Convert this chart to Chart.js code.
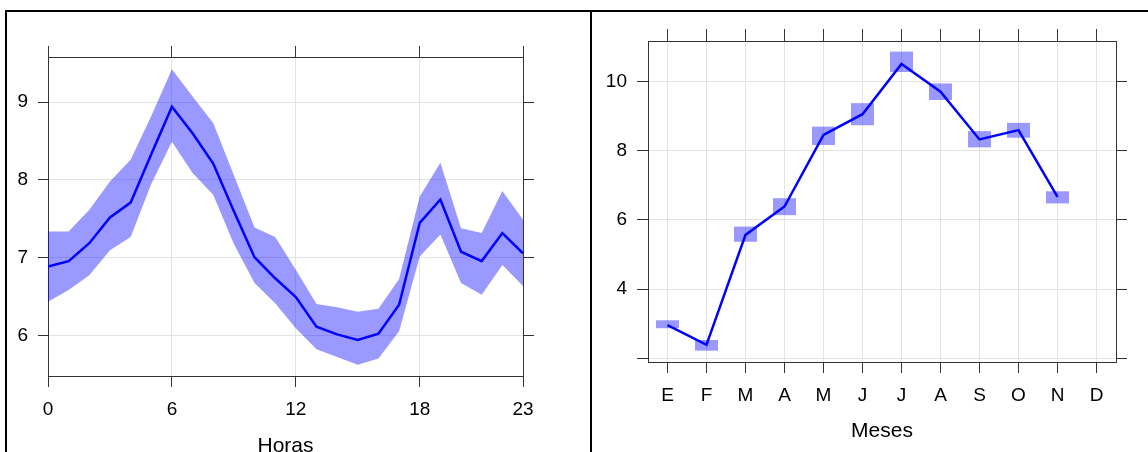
<!DOCTYPE html>
<html lang="es">
<head>
<meta charset="UTF-8">
<title>Horas y Meses</title>
<script src="https://cdn.jsdelivr.net/npm/chart.js"></script>
<style>
    body {
        margin: 0;
        background: #fff;
        width: 1148px;
        height: 452px;
        overflow: hidden;
        position: relative;
    }
    .frame { position: absolute; background: #000; }
    .panel { position: absolute; top: 0; }
</style>
</head>
<body>
<div class="frame" style="left:5px;top:10px;width:2px;height:442px"></div>
<div class="frame" style="left:5px;top:10px;width:1143px;height:2px"></div>
<div class="frame" style="left:590px;top:10px;width:2px;height:442px"></div>
<div class="panel" style="left:0"><canvas id="horas" width="590" height="452"></canvas></div>
<div class="panel" style="left:593px"><canvas id="meses" width="555" height="452"></canvas></div>

<script>
// datos por hora
const horas = [0, 1, 2, 3, 4, 5, 6, 7, 8, 9, 10, 11, 12, 13, 14, 15, 16, 17, 18, 19, 20, 21, 22, 23];
const media = [6.89, 6.96, 7.19, 7.52, 7.71, 8.33, 8.94, 8.60, 8.21, 7.60, 7.01, 6.74,
               6.50, 6.12, 6.02, 5.95, 6.03, 6.40, 7.45, 7.75, 7.08, 6.96, 7.32, 7.06];
const superior = [7.34, 7.34, 7.62, 7.98, 8.26, 8.82, 9.42, 9.07, 8.73, 8.06, 7.39, 7.27,
                  6.85, 6.41, 6.37, 6.31, 6.35, 6.73, 7.79, 8.22, 7.38, 7.32, 7.86, 7.49];
const inferior = [6.44, 6.59, 6.78, 7.10, 7.27, 7.95, 8.49, 8.09, 7.81, 7.18, 6.68, 6.42,
                  6.10, 5.83, 5.73, 5.63, 5.71, 6.06, 7.02, 7.30, 6.68, 6.53, 6.91, 6.64];
const ticksHoras = [0, 6, 12, 18, 23];
const ticksValorHoras = [6, 7, 8, 9];

// datos por mes
const meses = ['E', 'F', 'M', 'A', 'M', 'J', 'J', 'A', 'S', 'O', 'N', 'D'];
const mediaMes = [2.96, 2.39, 5.57, 6.39, 8.46, 9.06, 10.51, 9.71, 8.33, 8.60, 6.67, null];
const bajoMes = [2.87, 2.22, 5.37, 6.14, 8.17, 8.74, 10.28, 9.47, 8.10, 8.38, 6.48, null];
const altoMes = [3.10, 2.53, 5.81, 6.63, 8.70, 9.38, 10.87, 9.95, 8.57, 8.81, 6.83, null];
const ticksValorMeses = [2, 4, 6, 8, 10];

const AZUL = '#0000ff';
const BANDA = 'rgba(0,0,255,0.4)';
const GRID = '#e4e4e4';
const EJE = '#333';
const FUENTE = { family: "'Liberation Sans', Arial, sans-serif", size: 19 };
const TITULO = { family: "'Liberation Sans', Arial, sans-serif", size: 21 };

function fijar(px) {
    return function (s) {
        if (s.isHorizontal()) s.height = px;
        else s.width = px;
    };
}
function fijarTicks(vals) {
    return function (s) { s.ticks = vals.map(v => ({ value: v })); };
}
function pares(ys) {
    return horas.map((h, i) => ({ x: h, y: ys[i] }));
}
// eje con marcas hacia fuera
function eje(pos, tam, largo, extra) {
    const principal = pos === 'bottom' || pos === 'left';
    return Object.assign({
        position: pos,
        afterFit: fijar(tam),
        grid: { display: true, drawOnChartArea: principal, color: GRID, tickColor: EJE, tickLength: largo, offset: false },
        border: { display: true, color: EJE, width: 1 },
        ticks: { display: principal, color: '#000', font: FUENTE, padding: 10, maxRotation: 0, autoSkip: false }
    }, extra);
}

const base = {
    responsive: false,
    animation: false,
    events: [],
    layout: { padding: 0 },
    plugins: { legend: { display: false }, tooltip: { enabled: false } },
    elements: { line: { tension: 0 }, point: { radius: 0 } }
};

// panel izquierdo
const yMinH = 5.487, yMaxH = 9.577;
new Chart(document.getElementById('horas'), {
    type: 'line',
    data: {
        datasets: [
            { data: pares(superior), fill: '+1', backgroundColor: BANDA, borderColor: 'rgba(0,0,0,0)', borderWidth: 0, order: 1 },
            { data: pares(inferior), fill: false, borderColor: 'rgba(0,0,0,0)', borderWidth: 0, order: 1 },
            { data: pares(media), fill: false, borderColor: AZUL, borderWidth: 2.5, order: 0 }
        ]
    },
    options: Object.assign({}, base, {
        scales: {
            x: eje('bottom', 76, 11, {
                type: 'linear', min: 0, max: 23, afterBuildTicks: fijarTicks(ticksHoras),
                ticks: { color: '#000', font: FUENTE, padding: 11, maxRotation: 0, autoSkip: false },
                title: { display: true, text: 'Horas', color: '#000', font: TITULO, padding: { top: 0, bottom: -7 } }
            }),
            x2: eje('top', 57, 11, { type: 'linear', min: 0, max: 23, afterBuildTicks: fijarTicks(ticksHoras) }),
            y: eje('left', 48, 10, { type: 'linear', min: yMinH, max: yMaxH, afterBuildTicks: fijarTicks(ticksValorHoras) }),
            y2: eje('right', 67, 11, { type: 'linear', min: yMinH, max: yMaxH, afterBuildTicks: fijarTicks(ticksValorHoras) })
        }
    })
});

// panel derecho
const yMinM = 1.893, yMaxM = 11.177;
new Chart(document.getElementById('meses'), {
    type: 'bar',
    data: {
        labels: meses,
        datasets: [
            { type: 'line', data: mediaMes, borderColor: AZUL, borderWidth: 2.5, fill: false, order: 0 },
            {
                type: 'bar', data: bajoMes.map((b, i) => b === null ? null : [b, altoMes[i]]),
                backgroundColor: BANDA, borderWidth: 0, barPercentage: 0.59, categoryPercentage: 1, order: 1
            }
        ]
    },
    options: Object.assign({}, base, {
        scales: {
            x: eje('bottom', 90, 11, {
                type: 'category', offset: true,
                ticks: { color: '#000', font: FUENTE, padding: 11, maxRotation: 0, autoSkip: false },
                title: { display: true, text: 'Meses', color: '#000', font: TITULO, padding: { top: 0, bottom: 8 } }
            }),
            x2: eje('top', 41, 12, { type: 'category', offset: true, labels: meses }),
            y: eje('left', 55, 11, {
                type: 'linear', min: yMinM, max: yMaxM, afterBuildTicks: fijarTicks(ticksValorMeses),
                ticks: { color: '#000', font: FUENTE, padding: 10, callback: v => v === 2 ? '' : v }
            }),
            y2: eje('right', 32, 11, { type: 'linear', min: yMinM, max: yMaxM, afterBuildTicks: fijarTicks(ticksValorMeses) })
        }
    })
});
</script>
</body>
</html>
